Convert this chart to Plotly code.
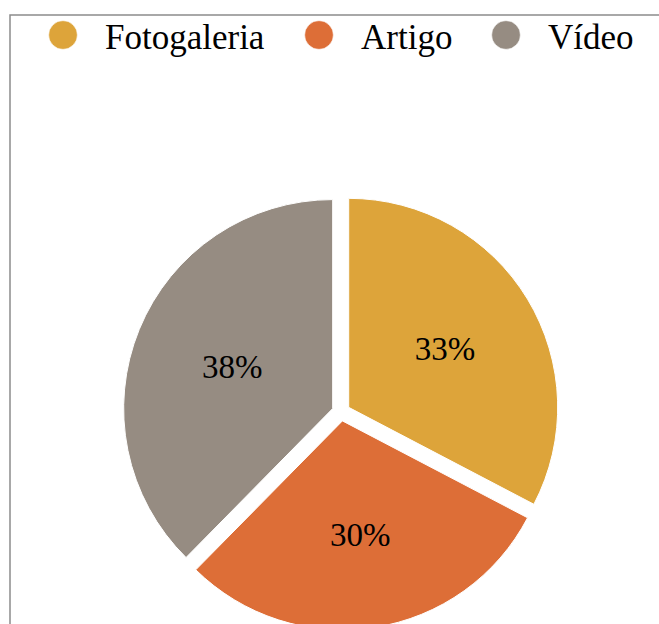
import plotly.graph_objects as go

# ---- data ----
categories = ["Fotogaleria", "Artigo", "Vídeo"]
values = [33, 30, 38]
colors = ["#DDA43A", "#DD6E37", "#968C82"]

# ---- layout constants (pixels) ----
W, H = 659, 640
ML, MT, BOX = 123, 194, 436
MR = W - ML - BOX
MB = H - MT - BOX
FONT = "Liberation Serif, Times New Roman, serif"
FS_PIE = 33
FS_LEG = 35


def px_x(px):
    return (px - ML) / BOX


def px_y(py):
    return 1 - (py - MT) / BOX


fig = go.Figure(
    go.Pie(
        labels=categories,
        values=values,
        marker=dict(colors=colors, line=dict(color="#FFFFFF", width=1)),
        sort=False,
        direction="clockwise",
        rotation=0,
        pull=[0.043] * len(values),
        texttemplate="%{percent:.0%}",
        textposition="inside",
        insidetextorientation="horizontal",
        textfont=dict(family=FONT, size=FS_PIE, color="#000000"),
        hoverinfo="label+percent",
        showlegend=False,
        domain=dict(x=[0, 1], y=[0, 1]),
    )
)

shapes = [
    dict(type="rect", xref="paper", yref="paper",
         x0=px_x(10), x1=px_x(W + 20), y0=px_y(15), y1=px_y(H + 20),
         line=dict(color="#8C8C8C", width=1.5), fillcolor="rgba(0,0,0,0)", layer="below"),
]
annotations = []
legend_circle_x = [63, 319, 506]
legend_y = 35
for name, col, cx in zip(categories, colors, legend_circle_x):
    shapes.append(dict(
        type="circle", xref="paper", yref="paper",
        xsizemode="pixel", ysizemode="pixel",
        xanchor=px_x(cx), yanchor=px_y(legend_y),
        x0=-14.3, x1=14.3, y0=-14.3, y1=14.3,
        fillcolor=col, line=dict(color="#FFFFFF", width=0.5),
    ))
    annotations.append(dict(
        xref="paper", yref="paper", x=px_x(cx + 40), y=px_y(legend_y + 3),
        xanchor="left", yanchor="middle", showarrow=False, text=name,
        font=dict(family=FONT, size=FS_LEG, color="#000000"),
    ))

fig.update_layout(
    width=W, height=H,
    margin=dict(l=ML, r=MR, t=MT, b=MB),
    paper_bgcolor="#FFFFFF", plot_bgcolor="#FFFFFF",
    shapes=shapes, annotations=annotations,
    showlegend=False,
)

fig.write_html(
    "out.html",
    config={"displayModeBar": False},
    post_script="document.body.style.margin='0';document.body.style.overflow='hidden';",
)
